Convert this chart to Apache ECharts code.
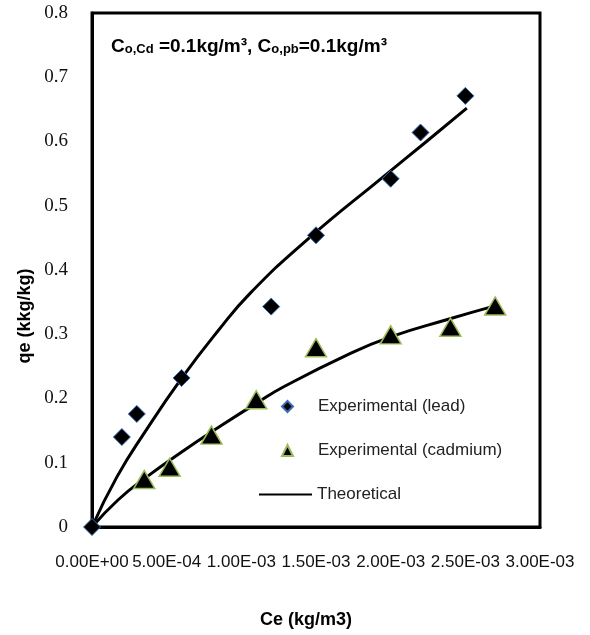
<!DOCTYPE html>
<html>
<head>
<meta charset="utf-8">
<script src="https://cdn.jsdelivr.net/npm/echarts@6/dist/echarts.min.js"></script>
<style>html,body{margin:0;padding:0;background:#fff}#c{width:590px;height:635px}</style>
</head>
<body>
<div id="c"></div>
<script>
// Experimental lead
const leadCe = [0, 2.0e-4, 3.0e-4, 6.0e-4, 1.2e-3, 1.5e-3, 2.0e-3, 2.2e-3, 2.5e-3];
const leadQe = [0, 0.140, 0.176, 0.232, 0.343, 0.454, 0.542, 0.614, 0.671];
// Experimental cadmium
const cdCe = [3.5e-4, 5.2e-4, 8.0e-4, 1.1e-3, 1.5e-3, 2.0e-3, 2.4e-3, 2.7e-3];
const cdQe = [0.074, 0.093, 0.143, 0.198, 0.279, 0.299, 0.311, 0.344];
// Theoretical curves
const thLeadCe = [0, 1.67e-4, 3.55e-4, 6.02e-4, 8.43e-4, 1.06e-3, 1.44e-3, 1.95e-3, 2.24e-3, 2.51e-3];
const thLeadQe = [0, 0.078, 0.148, 0.232, 0.305, 0.364, 0.447, 0.545, 0.600, 0.652];
const thCdCe = [0, 1.74e-4, 3.55e-4, 6.2e-4, 8.4e-4, 1.11e-3, 1.29e-3, 1.71e-3, 2.0e-3, 2.38e-3, 2.71e-3];
const thCdQe = [0, 0.042, 0.076, 0.120, 0.154, 0.194, 0.219, 0.268, 0.296, 0.323, 0.345];

const xMin = 0, xMax = 0.003, xStep = 0.0005;
const yMin = 0, yMax = 0.8, yStep = 0.1;

const names = ['Experimental (lead)', 'Experimental (cadmium)', 'Theoretical'];
const xTitle = 'Ce (kg/m3)';
const yTitle = 'qe (kkg/kg)';

const zip = (a, b) => a.map((v, i) => [v, b[i]]);

function sci(v) {
  if (Math.abs(v) < 1e-12) return '0.00E+00';
  const s = v.toExponential(2).toUpperCase();
  const [m, e] = s.split('E');
  const sign = e[0] === '-' ? '-' : '+';
  let d = e.replace('+', '').replace('-', '');
  if (d.length < 2) d = '0' + d;
  return m + 'E' + sign + d;
}

const legendText = {fontFamily: 'Liberation Sans', fontSize: 17, color: '#222', padding: [0, 0, 0, 20]};

const chart = echarts.init(document.getElementById('c'), null, {renderer: 'canvas'});
chart.setOption({
  backgroundColor: '#fff',
  animation: false,
  grid: {left: 92, top: 13, right: 50, bottom: 108, show: true, borderColor: '#000', borderWidth: 3, backgroundColor: 'transparent'},
  xAxis: {
    type: 'value', min: xMin, max: xMax, interval: xStep,
    axisLine: {show: true, onZero: false, lineStyle: {color: '#000', width: 3}},
    axisTick: {show: false},
    splitLine: {show: false},
    axisLabel: {margin: 27, fontFamily: 'Liberation Sans', fontSize: 17, color: '#111', formatter: sci}
  },
  yAxis: {
    type: 'value', min: yMin, max: yMax, interval: yStep,
    axisLine: {show: true, onZero: false, lineStyle: {color: '#000', width: 3}},
    axisTick: {show: false},
    splitLine: {show: false},
    axisLabel: {margin: 24, fontFamily: 'Liberation Serif', fontSize: 19, color: '#111'}
  },
  legend: [
    {orient: 'vertical', left: 281, top: 398, padding: 0, itemWidth: 11, itemHeight: 11, data: [names[0]], textStyle: legendText},
    {orient: 'vertical', left: 281, top: 442, padding: 0, itemWidth: 11, itemHeight: 11, data: [names[1]], textStyle: legendText},
    {orient: 'vertical', left: 259, top: 486, padding: 0, itemWidth: 53, itemHeight: 2, data: [{name: names[2], icon: 'rect'}],
      textStyle: Object.assign({}, legendText, {padding: [0, 0, 0, 0]})}
  ],
  graphic: [
    {type: 'text', left: 111, top: 37, style: {
      text: '{b|C}{s|o,Cd}{b| =0.1kg/m³, C}{s|o,pb}{b|=0.1kg/m³}',
      rich: {
        b: {fontFamily: 'Liberation Sans', fontWeight: 'bold', fontSize: 19, fill: '#000', verticalAlign: 'bottom'},
        s: {fontFamily: 'Liberation Sans', fontWeight: 'bold', fontSize: 13, fill: '#000', padding: [7, 0, 0, 0], verticalAlign: 'bottom'}
      }
    }},
    {type: 'text', x: 306, y: 620, style: {text: xTitle, fontFamily: 'Liberation Sans', fontWeight: 'bold', fontSize: 18, fill: '#000', align: 'center', verticalAlign: 'middle'}},
    {type: 'text', x: 25, y: 316, rotation: Math.PI / 2, style: {text: yTitle, fontFamily: 'Liberation Sans', fontWeight: 'bold', fontSize: 18, fill: '#000', align: 'center', verticalAlign: 'middle'}}
  ],
  series: [
    {name: 'Theoretical', type: 'line', data: zip(thLeadCe, thLeadQe), smooth: 0.5, symbol: 'none', lineStyle: {color: '#000', width: 3}, itemStyle: {color: '#000'}, z: 2},
    {name: 'Theoretical (cadmium)', type: 'line', data: zip(thCdCe, thCdQe), smooth: 0.5, symbol: 'none', lineStyle: {color: '#000', width: 3}, itemStyle: {color: '#000'}, z: 2},
    {name: 'Experimental (lead)', type: 'scatter', data: zip(leadCe, leadQe), symbol: 'diamond', symbolSize: 17, clip: false,
      itemStyle: {color: '#000', opacity: 1, borderColor: '#3a6db5', borderWidth: 1}, z: 3},
    {name: 'Experimental (cadmium)', type: 'scatter', data: zip(cdCe, cdQe), symbol: 'triangle', symbolSize: [21, 18], clip: false,
      itemStyle: {color: '#000', opacity: 1, borderColor: '#9bbb59', borderWidth: 1.5}, z: 3}
  ]
});
</script>
</body>
</html>
